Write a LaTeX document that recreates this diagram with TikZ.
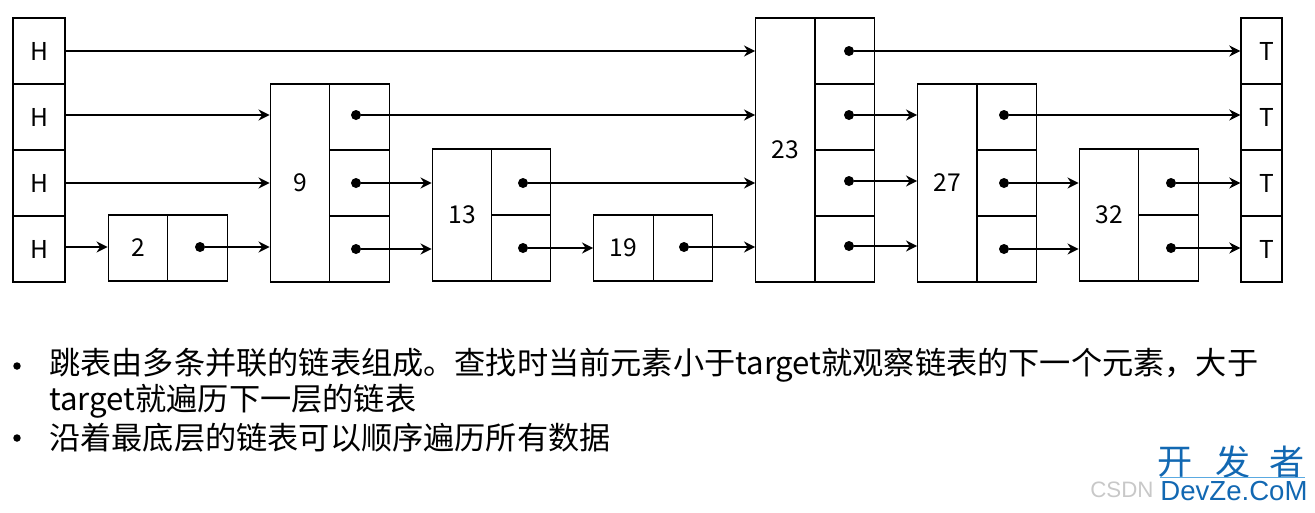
\documentclass[tikz,border=0pt]{standalone}
\usepackage{fontspec}
\setmainfont{Noto Sans CJK SC}
\newfontfamily\wmfont{Liberation Sans}
\definecolor{WmBlue}{RGB}{18, 104, 178}
\definecolor{WmLine}{RGB}{90, 170, 225}
\definecolor{WmGray}{RGB}{200, 200, 200}
\usetikzlibrary{arrows.meta, positioning, calc}

\begin{document}
\begin{tikzpicture}[x=0.02cm, y=-0.02cm, font=\fontsize{14pt}{17pt}\selectfont,
	cell/.style={draw, line width=0.8pt, minimum width=1.19cm, minimum height=1.32cm, inner sep=0pt},
	endcell/.style={cell, minimum width=1.04cm},
	tall/.style={cell, minimum height=#1},
	dot/.style={circle, fill=black, minimum size=0.2cm, inner sep=0pt},
	fl/.style={-{Stealth[length=2.2mm, width=2.2mm]}, line width=1.45pt},
	body/.style={anchor=west, inner sep=0pt, font=\fontsize{17.75pt}{21pt}\selectfont}]
	\useasboundingbox (0,0) rectangle (1315,512);

	% head and tail towers
	\foreach \n/\y in {1/51, 2/117, 3/183, 4/249} {
		\node[endcell] (h\n) at (39,\y) {H};
		\node[endcell, minimum width=0.82cm] (t\n) at (1261.5,\y) {\hspace*{0.22cm}T};
	}

	% towers, left box with the key
	\node[cell] (n2) at (138,248) {2};
	\node[tall=3.96cm] (n9) at (300,183) {9};
	\node[tall=2.64cm] (n13) at (462,215) {13};
	\node[cell] (n19) at (623.5,248) {19};
	\node[tall=5.28cm] (n23) at (785.5,150) {23};
	\node[tall=3.96cm] (n27) at (947.5,183) {27};
	\node[tall=2.64cm] (n32) at (1109,215) {32};

	% pointer cells
	\node[cell] (c2) at (197.5,248) {};
	\foreach \t/\x in {9/359.5, 27/1006.5} {
		\foreach \c/\y in {a/117, b/183, c/249}
			\node[cell] (c\t\c) at (\x,\y) {};
	}
	\foreach \t/\x in {13/521, 32/1168.5} {
		\foreach \c/\y in {a/182, b/248}
			\node[cell] (c\t\c) at (\x,\y) {};
	}
	\node[cell] (c19) at (683,248) {};
	\foreach \c/\y in {a/51, b/117, c/183, d/249}
		\node[cell] (c23\c) at (844.5,\y) {};

	% pointer dots
	\node[dot] (d2) at (200,247) {};
	\node[dot] (d9a) at (356,115) {};
	\node[dot] (d9b) at (356,183) {};
	\node[dot] (d9c) at (356,249) {};
	\node[dot] (d13a) at (523,183) {};
	\node[dot] (d13b) at (523,248) {};
	\node[dot] (d19) at (684,247) {};
	\node[dot] (d23a) at (849,51) {};
	\node[dot] (d23b) at (849,115) {};
	\node[dot] (d23c) at (849,181) {};
	\node[dot] (d23d) at (849,246) {};
	\node[dot] (d27a) at (1004,115) {};
	\node[dot] (d27b) at (1004,183) {};
	\node[dot] (d27c) at (1004,249) {};
	\node[dot] (d32a) at (1171,183) {};
	\node[dot] (d32b) at (1171,248) {};

	% links out of the head
	\draw[fl] (h1.east |- d23a) -- (d23a -| n23.west);
	\draw[fl] (h2.east |- d9a) -- (d9a -| n9.west);
	\draw[fl] (h3.east |- d9b) -- (d9b -| n9.west);
	\draw[fl, line width=0.9pt] (h4.east |- d2) -- (d2 -| n2.west);

	% links between the towers
	\draw[fl] (d2) -- (d2 -| n9.west);
	\draw[fl] (d9a) -- (d9a -| n23.west);
	\draw[fl] (d9b) -- (d9b -| n13.west);
	\draw[fl] (d9c) -- (d9c -| n13.west);
	\draw[fl] (d13a) -- (d13a -| n23.west);
	\draw[fl] (d13b) -- (d13b -| n19.west);
	\draw[fl] (d19) -- (d19 -| n23.west);
	\draw[fl] (d23a) -- (d23a -| t1.west);
	\draw[fl] (d23b) -- (d23b -| n27.west);
	\draw[fl] (d23c) -- (d23c -| n27.west);
	\draw[fl] (d23d) -- (d23d -| n27.west);
	\draw[fl] (d27a) -- (d27a -| t2.west);
	\draw[fl] (d27b) -- (d27b -| n32.west);
	\draw[fl] (d27c) -- (d27c -| n32.west);
	\draw[fl] (d32a) -- (d32a -| t3.west);
	\draw[fl] (d32b) -- (d32b -| t4.west);

	% notes
	\node[dot, minimum size=0.15cm] (b1) at (17,366) {};
	\node[dot, minimum size=0.15cm] (b2) at (17,438) {};
	\node[body] (l1) at (49,365) {跳表由多条并联的链表组成。查找时当前元素小于target就观察链表的下一个元素，大于};
	\node[body] (l2) at (49,401) {target就遍历下一层的链表};
	\node[body] (l3) at (49,438) {沿着最底层的链表可以顺序遍历所有数据};

	% watermark
	\node[inner sep=0pt, text=WmBlue, font=\fontsize{20pt}{24pt}\selectfont] (wk) at (1175,462) {开};
	\node[inner sep=0pt, text=WmBlue, font=\fontsize{20pt}{24pt}\selectfont] (wf) at (1233,462) {发};
	\node[inner sep=0pt, text=WmBlue, font=\fontsize{20pt}{24pt}\selectfont] (wz) at (1287,462) {者};
	\coordinate (wl) at (1160,477);
	\coordinate (wr) at (1305,477);
	\draw[WmLine, line width=0.5pt] (wl) -- (wr);
	\node[inner sep=0pt, anchor=west, text=WmBlue, font=\wmfont\fontsize{15.7pt}{19pt}\selectfont] (wd) at (1160,491) {DevZe.CoM};
	\node[inner sep=0pt, anchor=west, text=WmGray, font=\wmfont\fontsize{12.7pt}{16pt}\selectfont] (wc) at (1090,490) {CSDN};
\end{tikzpicture}
\end{document}
